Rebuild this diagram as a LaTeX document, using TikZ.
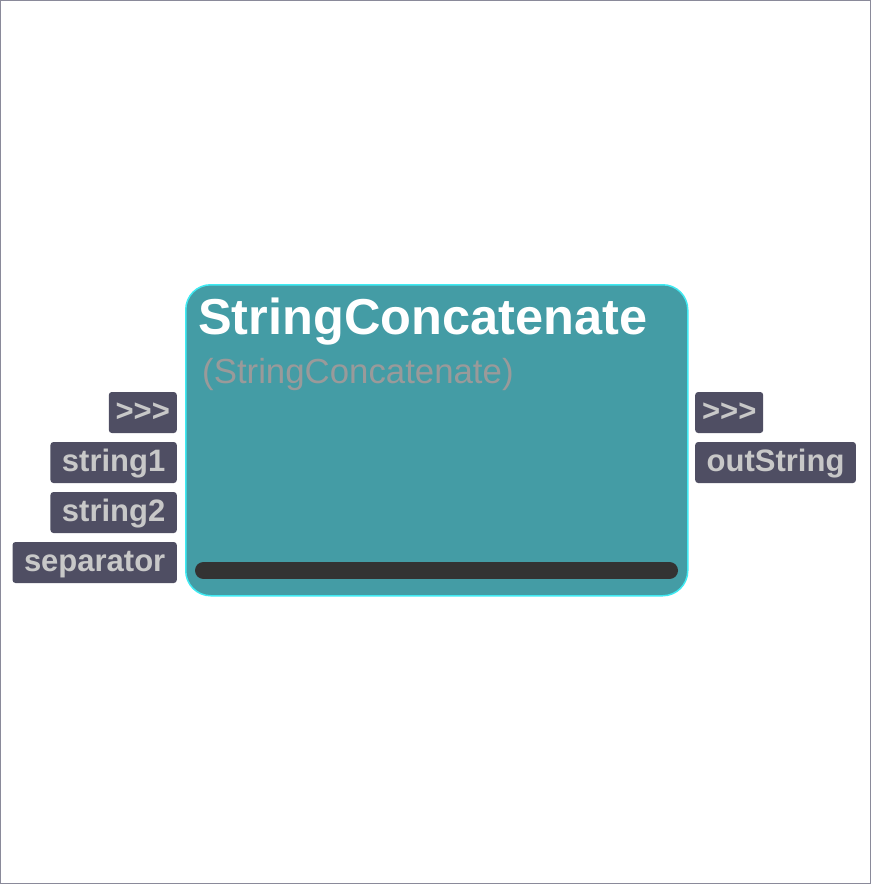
\documentclass[tikz,border=0pt]{standalone}
\usepackage{fontspec}
\setmainfont{Liberation Sans}
\definecolor{nodefill}{HTML}{449CA5}
\definecolor{nodeedge}{HTML}{40EAF2}
\definecolor{portfill}{HTML}{4F4E63}
\definecolor{porttext}{HTML}{C8C8C8}
\definecolor{subtext}{HTML}{9A9A9A}
\definecolor{barfill}{HTML}{333333}
\definecolor{frame}{HTML}{8A8A9A}
\tikzset{
  port/.style={fill=portfill, rounded corners=3pt, minimum height=41pt, inner xsep=11.5pt, inner ysep=0pt,
    text=porttext, font=\fontsize{31}{31}\selectfont\bfseries, text height=23.5pt, text depth=5.5pt},
  arrows3/.style={port, minimum width=68pt, inner xsep=5pt},
}
\begin{document}
\begin{tikzpicture}[x=1pt,y=1pt]
\useasboundingbox (0,0) rectangle (871,-884);
\draw[frame, line width=1pt] (0.5,-0.5) rectangle (870.5,-883.5);
\node[draw=nodeedge, line width=1.5pt, fill=nodefill, rounded corners=25pt, minimum width=502pt, minimum height=311pt, anchor=north west, inner sep=0pt] (main) at (185,-284) {};
\node[anchor=base west, inner sep=0pt, text=white, font=\fontsize{50.5}{50.5}\selectfont\bfseries] (title) at (198,-334) {StringConcatenate};
\node[anchor=base west, inner sep=0pt, text=subtext, font=\fontsize{34.8}{34.8}\selectfont] (sub) at (202,-383) {(StringConcatenate)};
\draw[barfill, line width=17pt, line cap=round] (203.5,-570.5) coordinate (b1) -- (669.5,-570.5) coordinate (b2);
\node[arrows3, anchor=east] (in0) at (177,-412.5) {>{}>{}>};
\node[port, anchor=east] (in1) at (177,-462.5) {string1};
\node[port, anchor=east] (in2) at (177,-512.5) {string2};
\node[port, anchor=east] (in3) at (177,-562.5) {separator};
\node[arrows3, anchor=west] (out0) at (695,-412.5) {>{}>{}>};
\node[port, anchor=west] (out1) at (695,-462.5) {outString};
\end{tikzpicture}
\end{document}
